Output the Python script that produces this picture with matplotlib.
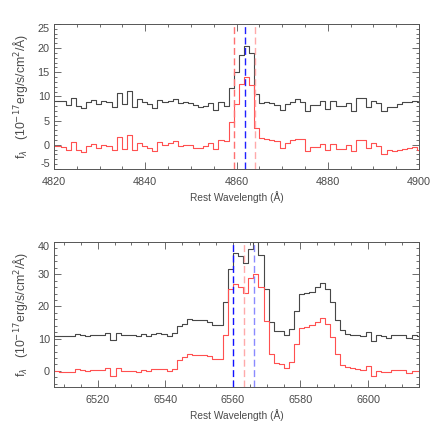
import numpy as np
import matplotlib
matplotlib.use("Agg")
import matplotlib.pyplot as plt
from matplotlib.ticker import MultipleLocator

#Hbeta window, rest frame bin centres (A)
wave_hb = [4819.77, 4820.89, 4822.00, 4823.12, 4824.23, 4825.35, 4826.47, 4827.58, 4828.70, 4829.81,
           4830.93, 4832.05, 4833.16, 4834.28, 4835.39, 4836.51, 4837.63, 4838.74, 4839.86, 4840.97,
           4842.09, 4843.21, 4844.32, 4845.44, 4846.55, 4847.67, 4848.79, 4849.90, 4851.02, 4852.13,
           4853.25, 4854.37, 4855.48, 4856.60, 4857.71, 4858.83, 4859.95, 4861.06, 4862.18, 4863.29,
           4864.41, 4865.53, 4866.64, 4867.76, 4868.87, 4869.99, 4871.11, 4872.22, 4873.34, 4874.45,
           4875.57, 4876.69, 4877.80, 4878.92, 4880.03, 4881.15, 4882.27, 4883.38, 4884.50, 4885.61,
           4886.73, 4887.85, 4888.96, 4890.08, 4891.19, 4892.31, 4893.43, 4894.54, 4895.66, 4896.77,
           4897.89, 4899.01, 4900.12]
#observed spectrum
flux_hb = [9.0, 9.0, 9.0, 8.2, 9.6, 8.1, 7.6, 8.9, 9.2, 8.5,
           9.0, 8.9, 7.9, 10.8, 8.5, 11.1, 7.9, 9.4, 8.8, 8.4,
           7.6, 9.3, 8.9, 9.1, 9.5, 8.7, 8.8, 8.6, 8.2, 7.9,
           8.1, 8.6, 7.2, 8.8, 8.1, 11.8, 15.1, 18.5, 20.4, 18.9,
           10.6, 8.7, 8.8, 8.6, 8.3, 7.3, 8.4, 8.8, 9.4, 8.9,
           6.9, 8.2, 8.2, 9.0, 7.5, 9.0, 8.0, 8.0, 8.6, 6.9,
           9.7, 9.7, 7.8, 9.1, 8.7, 7.1, 7.8, 7.8, 8.5, 8.9,
           8.9, 9.1, 8.9]
#continuum subtracted
resid_hb = [-0.2, -0.2, -0.4, -1.1, 0.6, -1.1, -1.5, -0.2, 0.1, -0.7,
            -0.1, -0.2, -1.1, 1.7, -0.8, 2.0, -1.1, 0.4, -0.3, -0.7,
            -1.3, 0.6, 0.0, 0.3, 0.8, -0.2, 0.0, -0.1, -0.7, -0.7,
            -0.3, 0.3, -0.9, 1.1, 0.8, 4.8, 8.4, 12.5, 14.0, 12.4,
            3.5, 1.4, 1.3, 1.0, 0.8, -0.7, 0.4, 0.9, 1.3, 1.3,
            -1.3, -0.4, -0.4, 0.1, -1.1, 0.2, -0.8, -0.8, -0.1, -1.3,
            1.1, 1.1, -0.6, 0.4, -0.2, -1.8, -1.1, -1.3, -1.0, -0.8,
            -0.7, -0.4, -1.0]

#Halpha + [NII] window
wave_ha = [6506.42, 6507.93, 6509.44, 6510.95, 6512.46, 6513.97, 6515.48, 6516.99, 6518.50, 6520.01,
           6521.52, 6523.03, 6524.54, 6526.05, 6527.56, 6529.07, 6530.58, 6532.09, 6533.60, 6535.11,
           6536.62, 6538.13, 6539.64, 6541.15, 6542.66, 6544.17, 6545.68, 6547.19, 6548.70, 6550.21,
           6551.72, 6553.23, 6554.74, 6556.25, 6557.76, 6559.27, 6560.78, 6562.29, 6563.80, 6565.31,
           6566.82, 6568.33, 6569.84, 6571.35, 6572.86, 6574.37, 6575.88, 6577.39, 6578.90, 6580.41,
           6581.92, 6583.43, 6584.94, 6586.45, 6587.96, 6589.47, 6590.98, 6592.49, 6594.00, 6595.51,
           6597.02, 6598.53, 6600.04, 6601.55, 6603.06, 6604.57, 6606.08, 6607.59, 6609.10, 6610.61,
           6612.12, 6613.63, 6615.14]
flux_ha = [11.0, 10.9, 10.7, 10.7, 10.7, 11.3, 11.0, 10.7, 11.0, 11.1,
           11.2, 11.6, 9.6, 11.8, 11.0, 11.0, 11.0, 10.7, 11.3, 10.9,
           11.4, 11.7, 11.4, 10.9, 11.7, 13.8, 14.5, 16.0, 15.9, 15.8,
           15.7, 15.2, 14.1, 14.1, 21.5, 31.5, 36.7, 35.7, 33.4, 37.7,
           40.5, 36.0, 25.5, 15.2, 12.4, 12.4, 11.1, 13.0, 18.7, 23.9,
           24.3, 24.6, 26.1, 27.2, 25.3, 21.5, 15.8, 12.7, 11.4, 11.1,
           11.1, 10.8, 12.2, 9.4, 11.1, 10.8, 10.3, 11.1, 11.1, 11.1,
           10.3, 11.1, 10.8]
resid_ha = [0.6, -0.1, -0.3, -0.3, -0.3, 0.5, 0.2, -0.1, 0.2, 0.2,
            0.3, 0.9, -1.6, 0.9, 0.1, 0.1, 0.0, -0.3, 0.4, 0.0,
            0.6, 0.6, 0.5, 0.0, 0.7, 3.5, 4.2, 5.1, 5.0, 4.9,
            4.8, 4.6, 3.7, 3.8, 11.1, 25.5, 27.0, 26.1, 24.1, 28.7,
            30.2, 26.1, 15.6, 5.1, 2.3, 2.2, 0.8, 2.7, 8.2, 13.2,
            13.5, 14.1, 15.3, 16.3, 14.6, 10.4, 5.2, 1.8, 1.1, 0.8,
            0.6, 0.3, 1.5, -1.6, 0.1, -0.2, -0.4, 0.3, 0.3, 0.3,
            -0.6, 0.1, 0.1]

#line markers: (wavelength, colour)
marks_hb = [(4859.4, '#ff7070'), (4861.8, '#2020ff'), (4864.0, '#ffaaaa')]
marks_ha = [(6560.2, '#1010ff'), (6563.3, '#ffaaaa'), (6566.3, '#8a8aff')]

plt.rcParams['font.family'] = ['Liberation Sans', 'DejaVu Sans']
plt.rcParams['axes.unicode_minus'] = False
plt.rcParams['font.size'] = 7

grey = '#555555'
txt = '#4a4a4a'
ylab = r'f$_\lambda$   (10$^{-17}$erg/s/cm$^2$/Å)'


def panel(ax, wave, flux, resid, marks, xlim, ylim, ystep, yminor):
    ax.step(wave, flux, where='mid', color='#474747', lw=0.8)
    ax.step(wave, resid, where='mid', color='#ff5050', lw=0.8)
    for w, c in marks:
        ax.axvline(w, color=c, lw=1.0, dashes=(5, 2.5))
    ax.set_xlim(*xlim)
    ax.set_ylim(*ylim)
    ax.xaxis.set_major_locator(MultipleLocator(20))
    ax.xaxis.set_minor_locator(MultipleLocator(5))
    ax.yaxis.set_major_locator(MultipleLocator(ystep))
    ax.yaxis.set_minor_locator(MultipleLocator(yminor))
    ax.tick_params(which='both', direction='in', top=True, right=True,
                   color=grey, labelcolor=txt, labelsize=7.8)
    ax.tick_params(which='major', length=5, width=0.6)
    ax.tick_params(which='minor', length=2.5, width=0.6)
    ax.tick_params(axis='x', pad=6)
    ax.tick_params(axis='y', pad=3)
    for s in ax.spines.values():
        s.set_color(grey)
        s.set_linewidth(0.7)
    ax.set_xlabel('Rest Wavelength (Å)', color=txt, fontsize=7.3, labelpad=3)
    ax.set_ylabel(ylab, color=txt, fontsize=8.8)
    ax.yaxis.set_label_coords(-0.065, 0.5)


fig = plt.figure(figsize=(4.36, 4.36), dpi=100)
ax1 = fig.add_axes([0.1239, 0.6124, 0.8372, 0.3326])
ax2 = fig.add_axes([0.1239, 0.1124, 0.8372, 0.3326])

panel(ax1, wave_hb, flux_hb, resid_hb, marks_hb, (4820, 4900), (-5, 25), 5, 1)
panel(ax2, wave_ha, flux_ha, resid_ha, marks_ha, (6507.1, 6615.1), (-5, 40), 10, 2)

#keep the end labels inside the frame
fig.canvas.draw()
for ax in (ax1, ax2):
    labs = ax.get_yticklabels()
    vals = ax.get_yticks()
    lo, hi = ax.get_ylim()
    for lab, v in zip(labs, vals):
        if abs(v - hi) < 1e-6:
            lab.set_va('top')
        elif abs(v - lo) < 1e-6:
            lab.set_va('bottom')

fig.savefig('out.png', dpi=100)
